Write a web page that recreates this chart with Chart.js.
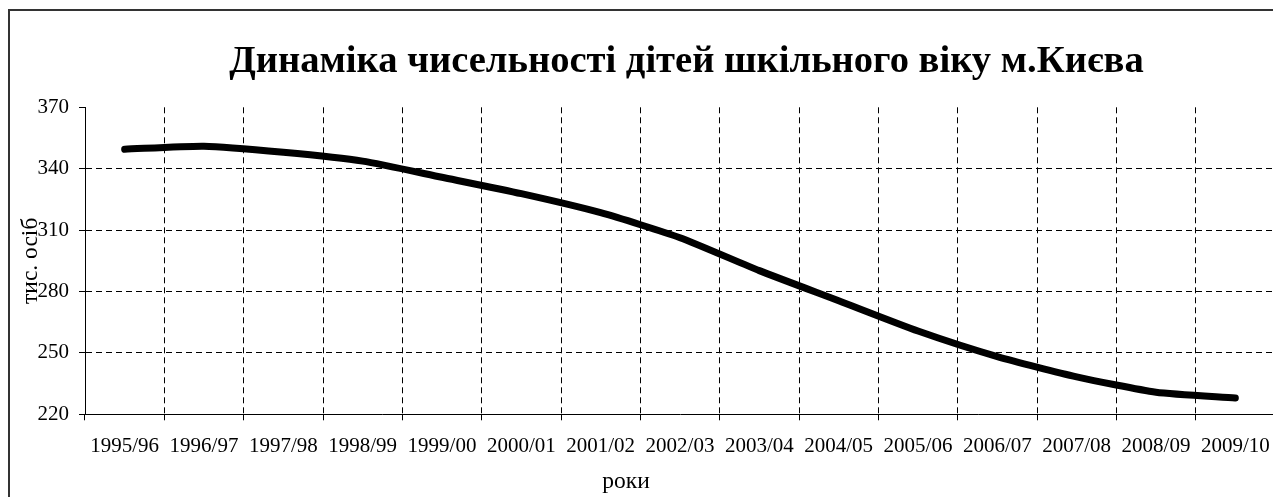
<!DOCTYPE html>
<html>
<head>
<meta charset="utf-8">
<script src="https://cdn.jsdelivr.net/npm/chart.js@4.4.0/dist/chart.umd.min.js"></script>
<style>
  html, body { margin: 0; padding: 0; background: #fff; overflow: hidden; }
  #frame { position: absolute; left: 8px; top: 9px; width: 1400px; height: 520px; border: 2px solid #333; }
  #chart { position: absolute; left: 0; top: 0; }
</style>
</head>
<body>
<div id="frame"><canvas id="chart" width="1353" height="487"></canvas></div>
<script>
// school-age children in Kyiv, thousand persons
const years = ['1995/96', '1996/97', '1997/98', '1998/99', '1999/00', '2000/01', '2001/02', '2002/03',
  '2003/04', '2004/05', '2005/06', '2006/07', '2007/08', '2008/09', '2009/10'];
const pupils = [349.5, 351, 348, 343.7, 335.8, 327.8, 318.5, 306.3, 290.2, 275.5, 260.7, 248.2, 238.3, 230.8, 228];
const yTicks = [220, 250, 280, 310, 340, 370];
const chartTitle = 'Динаміка чисельності дітей шкільного віку м.Києва';
const xTitle = 'роки';
const yTitle = 'тис. осіб';

const serif = '"Liberation Serif", "Times New Roman", serif';

// the chart area is wider than the window (cropped like the original),
// so the heading and the x caption are placed by hand
const captions = {
  id: 'captions',
  afterDraw(chart) {
    const ctx = chart.ctx;
    ctx.save();
    ctx.fillStyle = '#000';
    ctx.textAlign = 'center';
    ctx.textBaseline = 'alphabetic';
    ctx.font = 'bold 38.6px ' + serif;
    ctx.fillText(chartTitle, chart.width / 2, 61);
    ctx.font = '23.5px ' + serif;
    ctx.fillText(xTitle, 616, 477);
    ctx.restore();
  }
};

new Chart(document.getElementById('chart'), {
  type: 'line',
  data: {
    labels: years,
    datasets: [{
      data: pupils,
      borderColor: '#000',
      borderWidth: 7,
      borderCapStyle: 'round',
      borderJoinStyle: 'round',
      pointRadius: 0,
      tension: 0.2,
      fill: false
    }]
  },
  options: {
    responsive: false,
    animation: false,
    layout: { padding: { left: 0, right: 88, top: 96.3, bottom: 0 } },
    plugins: {
      legend: { display: false },
      tooltip: { enabled: false },
      title: { display: false }
    },
    scales: {
      x: {
        offset: true,
        afterFit(scale) { scale.height = 83.7; },
        grid: {
          offset: true,
          color: ctx => ctx.index === 0 ? 'rgba(0,0,0,0)' : '#000',
          lineWidth: 1,
          tickColor: '#000',
          tickLength: 6
        },
        border: { display: true, color: '#000', width: 1, dash: [6, 4] },
        ticks: {
          color: '#000',
          font: { family: serif, size: 21 },
          maxRotation: 0,
          autoSkip: false,
          padding: 14
        }
      },
      y: {
        min: Math.min(...yTicks),
        max: Math.max(...yTicks),
        afterFit(scale) { scale.width = 75; },
        grid: {
          color: ctx => (ctx.tick && ctx.tick.value > yTicks[0] && ctx.tick.value < yTicks[yTicks.length - 1]) ? '#000' : 'rgba(0,0,0,0)',
          lineWidth: 1,
          tickColor: '#000',
          tickLength: 6
        },
        border: { display: true, color: '#000', width: 1, dash: [6, 4] },
        ticks: {
          stepSize: yTicks[1] - yTicks[0],
          color: '#000',
          font: { family: serif, size: 21 },
          padding: 10
        },
        title: {
          display: true,
          text: yTitle,
          color: '#000',
          font: { family: serif, size: 23.5 },
          padding: { top: 7, bottom: 0 }
        }
      }
    }
  },
  plugins: [captions]
});
</script>
</body>
</html>
